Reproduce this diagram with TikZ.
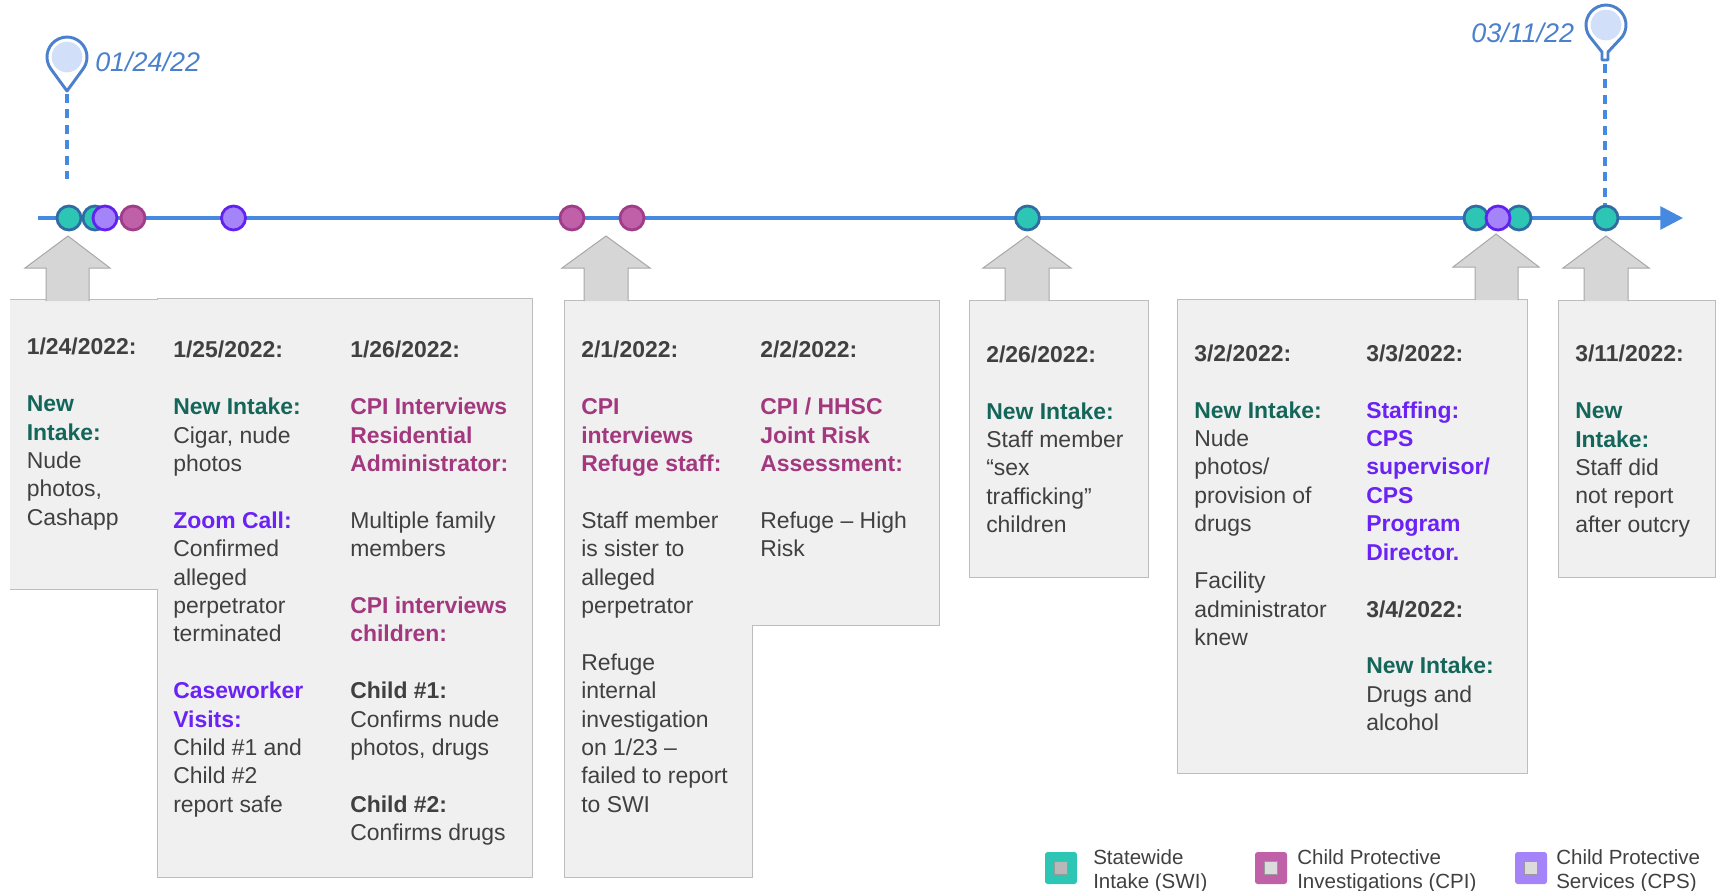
\documentclass[tikz,border=0pt]{standalone}
\usepackage{fontspec}
\setmainfont{Liberation Sans}
\usetikzlibrary{arrows.meta}
\definecolor{axisblue}{HTML}{4589E0}
\definecolor{pinblue}{HTML}{4A80CC}
\definecolor{pinfill}{HTML}{D2DFF8}
\definecolor{swifill}{HTML}{2DC5B4}
\definecolor{swiline}{HTML}{2F6CA3}
\definecolor{switext}{HTML}{14665A}
\definecolor{cpifill}{HTML}{C060A8}
\definecolor{cpiline}{HTML}{A03D8A}
\definecolor{cpitext}{HTML}{A3387F}
\definecolor{cpsfill}{HTML}{A583F8}
\definecolor{cpsline}{HTML}{6122F0}
\definecolor{cpstext}{HTML}{6A22F5}
\definecolor{bodytext}{HTML}{404040}
\newcommand{\dateline}[1]{\textbf{#1}}
\newcommand{\swihead}[1]{\textcolor{switext}{\textbf{#1}}}
\newcommand{\cpihead}[1]{\textcolor{cpitext}{\textbf{#1}}}
\newcommand{\cpshead}[1]{\textcolor{cpstext}{\textbf{#1}}}
\begin{document}
\begin{tikzpicture}[x=0.75pt, y=-0.75pt,
	panel/.style={draw=black!26, line width=0.75pt, fill=black!6},
	uparrow/.style={draw=black!34, line width=0.75pt, fill=black!16},
	column/.style={anchor=north west, inner sep=0pt, align=left, text=bodytext, font=\fontsize{17.2}{21.3}\selectfont},
	dot/.style={circle, inner sep=0pt, minimum size=18pt, line width=2.1pt},
	swidot/.style={dot, draw=swiline, fill=swifill},
	cpidot/.style={dot, draw=cpiline, fill=cpifill},
	cpsdot/.style={dot, draw=cpsline, fill=cpsfill},
	pinmark/.style={draw=pinblue, line width=2.2pt, fill=white, line join=round},
	pincore/.style={circle, fill=pinfill, inner sep=0pt, minimum size=23pt},
	pindate/.style={inner sep=0pt, text=pinblue, font=\fontsize{20.2}{24}\selectfont\itshape},
	pinstem/.style={draw=axisblue, line width=2.3pt, dash pattern=on 6.7pt off 4.9pt},
	key/.style={rounded corners=2pt, minimum size=24pt, inner sep=0pt},
	keycore/.style={draw=black!40, line width=0.4pt, minimum size=10pt, inner sep=0pt},
	keytext/.style={anchor=west, inner sep=0pt, align=left, text=bodytext, font=\fontsize{15.4}{18}\selectfont}]
	\useasboundingbox (0,0) rectangle (1719,890);
	% panels
	\draw[panel] (10,299) -- (157,299) -- (157,298) -- (532,298) -- (532,877) -- (157,877) -- (157,589) -- (10,589);
	\draw[panel] (564,300) -- (939,300) -- (939,625) -- (752,625) -- (752,877) -- (564,877) -- cycle;
	\draw[panel] (969,300) rectangle (1148,577);
	\draw[panel] (1177,299) rectangle (1527,773);
	\draw[panel] (1558,300) rectangle (1715,577);
	% arrows up to the axis
	\draw[uparrow] (46,301) -- (46,268) -- (25,268) -- (68,236) -- (110,268) -- (89,268) -- (89,301);
	\draw[uparrow] (584,301) -- (584,268) -- (562,268) -- (606,236) -- (650,268) -- (628,268) -- (628,301);
	\draw[uparrow] (1005,301) -- (1005,268) -- (983,268) -- (1027,236) -- (1071,268) -- (1049,268) -- (1049,301);
	\draw[uparrow] (1475,300) -- (1475,267) -- (1453,267) -- (1496,234) -- (1539,267) -- (1518,267) -- (1518,300);
	\draw[uparrow] (1584,301) -- (1584,268) -- (1563,268) -- (1606,236) -- (1649,268) -- (1628,268) -- (1628,301);
	% axis
	\coordinate (start) at (38,218);
	\coordinate (end) at (1683,218);
	\draw[axisblue, line width=2.7pt, -{Triangle[length=17pt,width=17pt]}] (start) -- (end);
	\node[swidot] (swiA) at (69,218) {};
	\node[swidot] (swiB) at (95,218) {};
	\node[cpsdot] (cpsA) at (105,218) {};
	\node[cpidot] (cpiA) at (133,218) {};
	\node[cpsdot] (cpsB) at (233.5,218) {};
	\node[cpidot] (cpiB) at (572,218) {};
	\node[cpidot] (cpiC) at (632,218) {};
	\node[swidot] (swiC) at (1027.5,218) {};
	\node[swidot] (swiD) at (1476,218) {};
	\node[swidot] (swiE) at (1519,218) {};
	\node[cpsdot] (cpsC) at (1498,218) {};
	\node[swidot] (swiF) at (1606,218) {};
	% pins
	\draw[pinmark] (67,91) -- (50.8,68.8) arc[start angle=144, end angle=396, radius=20] -- cycle;
	\node[pincore] (pinA) at (67,57) {};
	\node[pindate, anchor=west] (dateA) at (95,62) {01/24/22};
	\coordinate (tipA) at (67,94);
	\coordinate (stemA) at (67,179);
	\draw[pinstem] (tipA) -- (stemA);
	\draw[pinmark] (1589.8,36.8) arc[start angle=144, end angle=396, radius=20] -- (1608,52) -- (1608,60) -- (1602,60) -- (1602,52) -- cycle;
	\node[pincore] (pinB) at (1606,25) {};
	\node[pindate, anchor=west] (dateB) at (1471,33) {03/11/22};
	\coordinate (tipB) at (1605,64);
	\draw[pinstem] (tipB) -- (tipB |- swiF.north);
	% columns
	\node[column] (jan24) at (26.5,338) {\dateline{1/24/2022:}\\~\\\swihead{New}\\\swihead{Intake:}\\Nude\\photos,\\Cashapp};
	\node[column] (jan25) at (173,341) {\dateline{1/25/2022:}\\~\\\swihead{New Intake:}\\Cigar, nude\\photos\\~\\\cpshead{Zoom Call:}\\Confirmed\\alleged\\perpetrator\\terminated\\~\\\cpshead{Caseworker}\\\cpshead{Visits:}\\Child \#1 and\\Child \#2\\report safe};
	\node[column] (jan26) at (350,341) {\dateline{1/26/2022:}\\~\\\cpihead{CPI Interviews}\\\cpihead{Residential}\\\cpihead{Administrator:}\\~\\Multiple family\\members\\~\\\cpihead{CPI interviews}\\\cpihead{children:}\\~\\\dateline{Child \#1:}\\Confirms nude\\photos, drugs\\~\\\dateline{Child \#2:}\\Confirms drugs};
	\node[column] (feb1) at (581,341) {\dateline{2/1/2022:}\\~\\\cpihead{CPI}\\\cpihead{interviews}\\\cpihead{Refuge staff:}\\~\\Staff member\\is sister to\\alleged\\perpetrator\\~\\Refuge\\internal\\investigation\\on 1/23 –\\failed to report\\to SWI};
	\node[column] (feb2) at (760,341) {\dateline{2/2/2022:}\\~\\\cpihead{CPI / HHSC}\\\cpihead{Joint Risk}\\\cpihead{Assessment:}\\~\\Refuge – High\\Risk};
	\node[column] (feb26) at (986,345.5) {\dateline{2/26/2022:}\\~\\\swihead{New Intake:}\\Staff member\\“sex\\trafficking”\\children};
	\node[column] (mar2) at (1194,344.5) {\dateline{3/2/2022:}\\~\\\swihead{New Intake:}\\Nude\\photos/\\provision of\\drugs\\~\\Facility\\administrator\\knew};
	\node[column] (mar3) at (1366,344.5) {\dateline{3/3/2022:}\\~\\\cpshead{Staffing:}\\\cpshead{CPS}\\\cpshead{supervisor/}\\\cpshead{CPS}\\\cpshead{Program}\\\cpshead{Director.}\\~\\\dateline{3/4/2022:}\\~\\\swihead{New Intake:}\\Drugs and\\alcohol};
	\node[column] (mar11) at (1575,345) {\dateline{3/11/2022:}\\~\\\swihead{New}\\\swihead{Intake:}\\Staff did\\not report\\after outcry};
	% legend
	\node[key, fill=swifill] (keySwi) at (1061,868) {};
	\node[keycore, fill=black!28] (coreSwi) at (keySwi) {};
	\node[keytext] (textSwi) at (1093,871) {Statewide\\Intake (SWI)};
	\node[key, fill=cpifill] (keyCpi) at (1271,868) {};
	\node[keycore, fill=black!14] (coreCpi) at (keyCpi) {};
	\node[keytext] (textCpi) at (1297,871) {Child Protective\\Investigations (CPI)};
	\node[key, fill=cpsfill] (keyCps) at (1531,868) {};
	\node[keycore, fill=black!14] (coreCps) at (keyCps) {};
	\node[keytext] (textCps) at (1556,871) {Child Protective\\Services (CPS)};
\end{tikzpicture}
\end{document}
